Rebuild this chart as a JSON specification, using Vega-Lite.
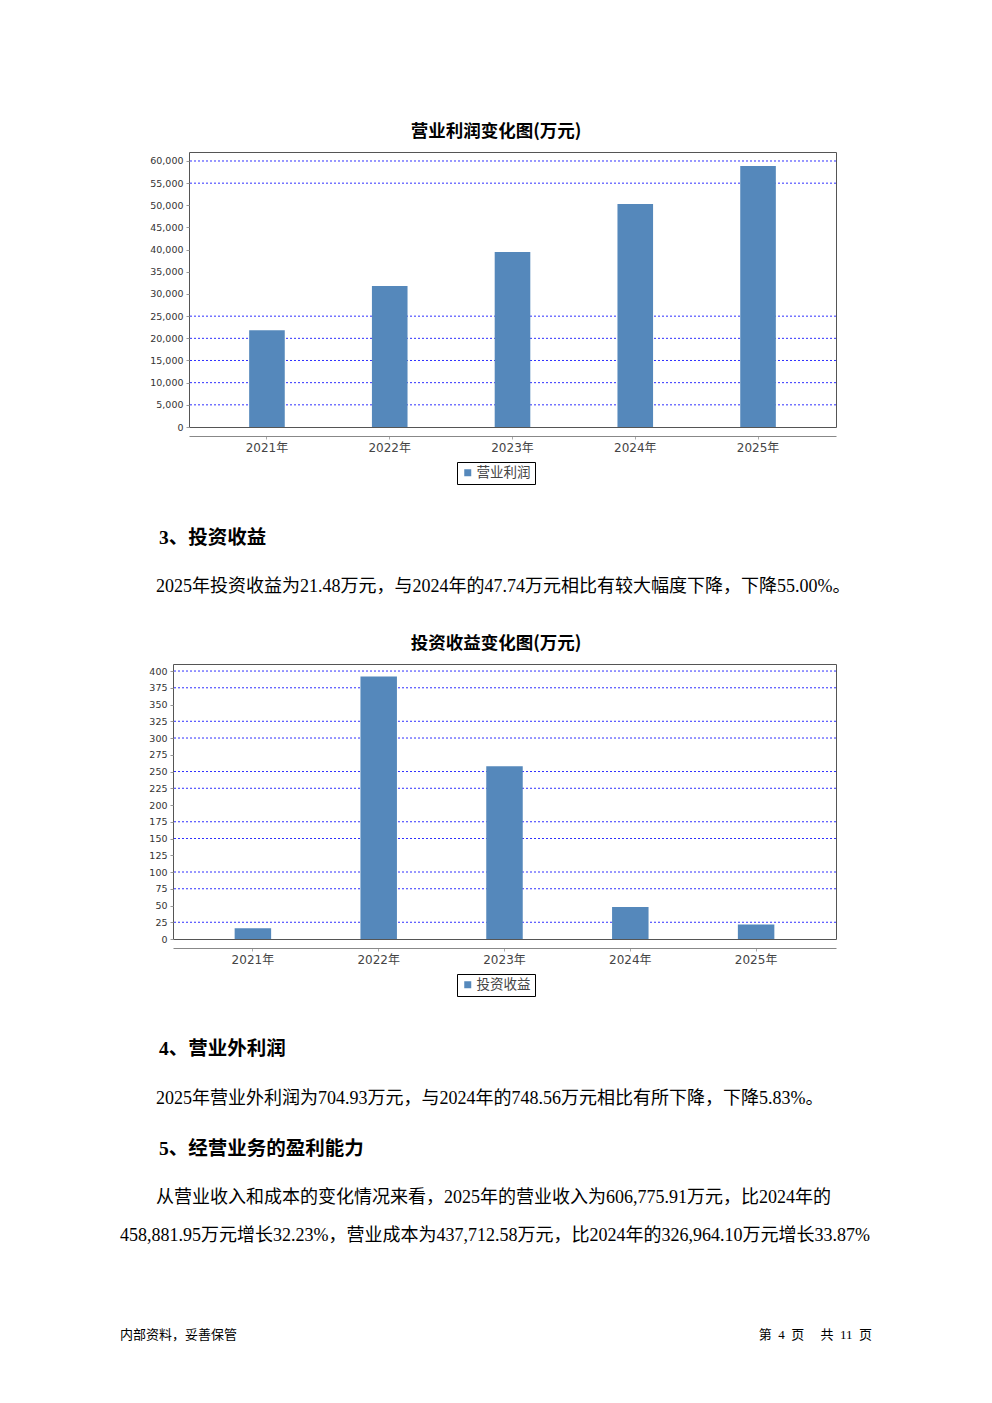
{
  "$schema": "https://vega.github.io/schema/vega-lite/v6.json",
  "background": "white",
  "padding": {"left": 120, "top": 122, "right": 10, "bottom": 10},
  "datasets": {
    "op": [
      {"year": "2021年", "series": "营业利润", "value": 21800},
      {"year": "2022年", "series": "营业利润", "value": 31800},
      {"year": "2023年", "series": "营业利润", "value": 39500},
      {"year": "2024年", "series": "营业利润", "value": 50300},
      {"year": "2025年", "series": "营业利润", "value": 58900}
    ],
    "grid1": [{"v": 5000}, {"v": 10000}, {"v": 15000}, {"v": 20000}, {"v": 25000}, {"v": 55000}, {"v": 60000}],
    "inv": [
      {"year": "2021年", "series": "投资收益", "value": 16},
      {"year": "2022年", "series": "投资收益", "value": 392},
      {"year": "2023年", "series": "投资收益", "value": 258},
      {"year": "2024年", "series": "投资收益", "value": 47.74},
      {"year": "2025年", "series": "投资收益", "value": 21.48}
    ],
    "grid2": [{"v": 25}, {"v": 75}, {"v": 100}, {"v": 150}, {"v": 175}, {"v": 225}, {"v": 250}, {"v": 300}, {"v": 325}, {"v": 375}, {"v": 400}]
  },
  "vconcat": [
    {
      "hconcat": [
        {"width": 69, "height": 10, "data": {"values": []}, "mark": "point", "view": {"stroke": null}},
        {
          "width": 647,
          "height": 275,
          "view": {"stroke": "#555"},
          "title": {"text": "营业利润变化图(万元)", "font": "Noto Sans CJK SC", "fontSize": 17.5, "fontWeight": "bold", "color": "#000", "anchor": "middle", "frame": "group", "offset": 12, "dx": -16.5},
          "layer": [
            {
              "data": {"name": "grid1"},
              "mark": {"type": "rule", "color": "#3030ff", "strokeDash": [2, 2], "strokeWidth": 1},
              "encoding": {
                "y": {"field": "v", "type": "quantitative", "title": null, "scale": {"domain": [0, 62030], "nice": false}, "axis": {"values": [0, 5000, 10000, 15000, 20000, 25000, 30000, 35000, 40000, 45000, 50000, 55000, 60000], "format": ",d", "title": null}}
              }
            },
            {
              "data": {"name": "op"},
              "mark": {"type": "bar"},
              "encoding": {
                "x": {"field": "year", "type": "nominal", "title": null, "scale": {"paddingInner": 0.71, "paddingOuter": 0.49}},
                "y": {"field": "value", "type": "quantitative", "title": null, "scale": {"domain": [0, 62030], "nice": false}, "axis": {"values": [0, 5000, 10000, 15000, 20000, 25000, 30000, 35000, 40000, 45000, 50000, 55000, 60000], "format": ",d", "title": null}},
                "color": {"field": "series", "type": "nominal", "scale": {"range": ["#5588bb"]}, "legend": {"orient": "none", "legendX": 268, "legendY": 310, "title": null}}
              }
            }
          ]
        }
      ],
      "spacing": 0,
      "bounds": "flush",
      "resolve": {"scale": {"color": "independent"}}
    },
    {
      "title": {
        "text": "\u200b　　3、投资收益",
        "subtitle": "\u200b　　2025年投资收益为21.48万元，与2024年的47.74万元相比有较大幅度下降，下降55.00%。",
        "anchor": "start", "frame": "group", "orient": "top", "offset": 37
      },
      "vconcat": [
        {
          "hconcat": [
            {"width": 53, "height": 10, "data": {"values": []}, "mark": "point", "view": {"stroke": null}},
            {
              "width": 663,
              "height": 275,
              "view": {"stroke": "#555"},
              "title": {"text": "投资收益变化图(万元)", "font": "Noto Sans CJK SC", "fontSize": 17.5, "fontWeight": "bold", "color": "#000", "anchor": "middle", "frame": "group", "offset": 12, "dx": -8.5},
              "layer": [
                {
                  "data": {"name": "grid2"},
                  "mark": {"type": "rule", "color": "#3030ff", "strokeDash": [2, 2], "strokeWidth": 1},
                  "encoding": {
                    "y": {"field": "v", "type": "quantitative", "title": null, "scale": {"domain": [0, 410.5], "nice": false}, "axis": {"values": [0, 25, 50, 75, 100, 125, 150, 175, 200, 225, 250, 275, 300, 325, 350, 375, 400], "title": null}}
                  }
                },
                {
                  "data": {"name": "inv"},
                  "mark": {"type": "bar"},
                  "encoding": {
                    "x": {"field": "year", "type": "nominal", "title": null, "scale": {"paddingInner": 0.71, "paddingOuter": 0.49}},
                    "y": {"field": "value", "type": "quantitative", "title": null, "scale": {"domain": [0, 410.5], "nice": false}, "axis": {"values": [0, 25, 50, 75, 100, 125, 150, 175, 200, 225, 250, 275, 300, 325, 350, 375, 400], "title": null}},
                    "color": {"field": "series", "type": "nominal", "scale": {"range": ["#5588bb"]}, "legend": {"orient": "none", "legendX": 284, "legendY": 310, "title": null}}
                  }
                }
              ]
            }
          ],
          "spacing": 0,
          "bounds": "flush",
          "resolve": {"scale": {"color": "independent"}}
        }
      ],
      "resolve": {"scale": {"color": "independent"}}
    },
    {
      "title": {
        "text": "\u200b　　4、营业外利润",
        "subtitle": "\u200b　　2025年营业外利润为704.93万元，与2024年的748.56万元相比有所下降，下降5.83%。",
        "anchor": "start", "frame": "group", "orient": "top", "offset": 30
      },
      "vconcat": [
        {
          "title": {
            "text": "\u200b　　5、经营业务的盈利能力",
            "subtitle": ["\u200b　　从营业收入和成本的变化情况来看，2025年的营业收入为606,775.91万元，比2024年的", "458,881.95万元增长32.23%，营业成本为437,712.58万元，比2024年的326,964.10万元增长33.87%"],
            "anchor": "start", "frame": "group", "orient": "top", "offset": 83
          },
          "vconcat": [
            {
              "hconcat": [
                {"width": 376, "height": 1, "data": {"values": []}, "mark": "point", "view": {"stroke": null},
                 "title": {"text": "内部资料，妥善保管", "anchor": "start", "frame": "group", "offset": 0, "fontSize": 13, "fontWeight": "normal", "font": "Liberation Serif, Noto Sans CJK SC", "color": "#000"}},
                {"width": 376, "height": 1, "data": {"values": []}, "mark": "point", "view": {"stroke": null},
                 "title": {"text": "第\u00a0\u00a04\u00a0\u00a0页\u00a0\u00a0\u00a0\u00a0\u00a0共\u00a0\u00a011\u00a0\u00a0页", "anchor": "end", "frame": "group", "offset": 0, "fontSize": 13, "fontWeight": "normal", "font": "Liberation Serif, Noto Sans CJK SC", "color": "#000"}}
              ],
              "spacing": 0,
              "bounds": "flush"
            }
          ]
        }
      ]
    }
  ],
  "spacing": 42,
  "bounds": "full",
  "align": "none",
  "resolve": {"scale": {"color": "independent"}},
  "config": {
    "view": {"stroke": null},
    "title": {
      "font": "Liberation Serif, Noto Sans CJK SC",
      "fontSize": 19.5,
      "fontWeight": "bold",
      "color": "#000",
      "subtitleFont": "Liberation Serif, Noto Sans CJK SC",
      "subtitleFontSize": 18,
      "subtitleFontWeight": "normal",
      "subtitleColor": "#000",
      "subtitlePadding": 30,
      "subtitleLineHeight": 38
    },
    "axisY": {"grid": false, "domain": false, "tickColor": "#999", "tickSize": 3, "labelFontSize": 9.5, "labelFont": "DejaVu Sans", "labelColor": "#333", "labelPadding": 3},
    "axisX": {"grid": false, "domainColor": "#888", "tickColor": "#aaa", "tickSize": 3, "labelFontSize": 12, "labelFont": "DejaVu Sans, Noto Sans CJK SC", "labelColor": "#444", "labelPadding": 3, "labelAngle": 0, "offset": 9},
    "legend": {"symbolType": "square", "symbolSize": 49, "symbolStrokeWidth": 0, "labelFontSize": 13.5, "labelFont": "Noto Sans CJK SC", "labelColor": "#444", "strokeColor": "#000", "padding": 4, "labelOffset": 2}
  }
}
